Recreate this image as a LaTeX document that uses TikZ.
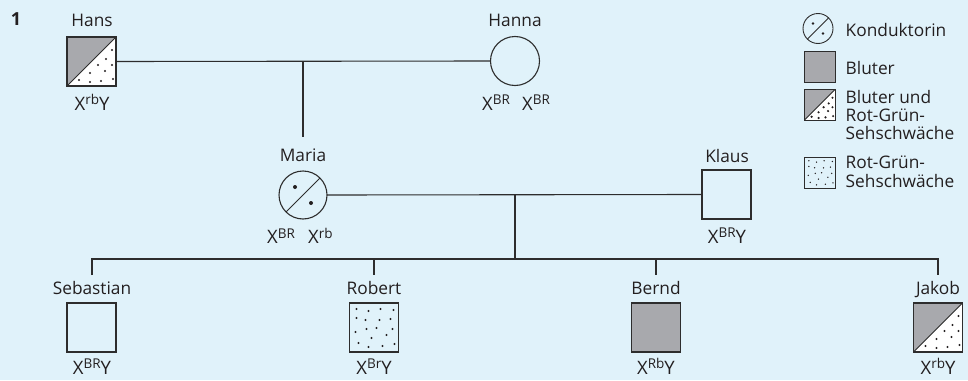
\documentclass[tikz,border=0pt]{standalone}
\usepackage{fontspec}
\setmainfont{Open Sans}
\definecolor{bg}{RGB}{224,242,250}
\definecolor{ln}{RGB}{45,45,45}
\definecolor{gr}{RGB}{168,169,173}
\definecolor{tx}{RGB}{35,31,32}
\newcommand\geno[3]{{\fontsize{18.5}{20}\selectfont #1\raisebox{5.2pt}{\fontsize{13.5}{15}\selectfont #2}#3}}
\newcommand\halfdots[2]{%
  \begin{scope}[shift={(#1.north west)}]
    \foreach \x/\y in {45/13,39/22,31/28,45/28,23/36,38/34,12/43,23/45,34/44,46/42}
      \fill[tx] ({#2*\x},{#2*\y}) circle (1.2pt);
  \end{scope}}
\newcommand\fulldots[3]{%
  \begin{scope}[shift={(#1.north west)}]
    \foreach \x/\y in {7/6,19/8,31/6,44/7,7/15,16/17,30/17,41/16,6/29,17/26,27/25,43/26,22/35,37/32,9/40,19/44,33/43,45/41}
      \fill[tx] ({#2*\x},{#2*\y}) circle (#3);
  \end{scope}}
\begin{document}
\begin{tikzpicture}[x=1pt,y=-1pt,
  every node/.style={text=tx, font=\fontsize{17.3}{18.5}\selectfont},
  lbl/.style={anchor=base, inner sep=0},
  gl/.style={anchor=base west, inner sep=0},
  leg/.style={anchor=base west, inner sep=0},
  person/.style={draw=ln, line width=1.1pt, inner sep=0, outer sep=0},
  male/.style={person, rectangle, minimum size=49pt},
  female/.style={person, circle, minimum size=49pt},
  lmale/.style={person, rectangle, minimum size=31pt, line width=0.9pt},
  lfemale/.style={person, circle, minimum size=30pt, line width=0.9pt},
  affected/.style={fill=gr},
  halfgray/.style={fill=white, path picture={\fill[gr] (path picture bounding box.north west) -- (path picture bounding box.north east) -- (path picture bounding box.south west) -- cycle;
     \draw[ln, line width=0.9pt] (path picture bounding box.south west) -- (path picture bounding box.north east);}},
  carrier/.style={path picture={\draw[ln, line width=0.9pt] (path picture bounding box.south west) -- (path picture bounding box.north east);}},
  link/.style={draw=ln, line width=1.1pt}
]
\fill[bg] (0,0) rectangle (968,380);
\useasboundingbox (0,0) rectangle (968,380);

\node[lbl, font=\fontsize{18}{20}\bfseries] (num) at (16,25) {1};

% generation I
\node[male, halfgray] (hans) at (91.5,61.5) {};
\node[female] (hanna) at (515,61) {};
\node[lbl] (hansname) at (92,27) {Hans};
\node[lbl] (hannaname) at (515,27) {Hanna};
\node[lbl] (hansgeno) at (92,110) {\geno{X}{rb}{Y}};
\node[gl] (hannageno1) at (482,110) {\geno{X}{BR}{}};
\node[gl] (hannageno2) at (522,110) {\geno{X}{BR}{}};
\halfdots{hans}{1}

% generation II
\node[female, carrier, minimum size=48pt] (maria) at (303,195) {};
\node[male] (klaus) at (726.5,194.5) {};
\node[lbl] (marianame) at (303,161.5) {Maria};
\node[lbl] (klausname) at (727,162) {Klaus};
\node[gl] (mariageno1) at (267,243.5) {\geno{X}{BR}{}};
\node[gl] (mariageno2) at (308,243.5) {\geno{X}{rb}{}};
\node[lbl] (klausgeno) at (727,243) {\geno{X}{BR}{Y}};
\fill[tx] ([shift={(-8,-8)}]maria.center) circle (2pt);
\fill[tx] ([shift={(8,8)}]maria.center) circle (2pt);

% generation III
\node[male] (seb) at (91.5,327.5) {};
\node[male] (rob) at (374,327.5) {};
\node[male, affected] (bernd) at (656,327.5) {};
\node[male, halfgray] (jakob) at (938,327.5) {};
\fulldots{rob}{1}{1.2pt}
\halfdots{jakob}{1}
\node[lbl] (sebname) at (92,294) {Sebastian};
\node[lbl] (robname) at (374,294) {Robert};
\node[lbl] (berndname) at (656,294) {Bernd};
\node[lbl] (jakobname) at (938,294) {Jakob};
\node[lbl] (sebgeno) at (92,374) {\geno{X}{BR}{Y}};
\node[lbl] (robgeno) at (374,374) {\geno{X}{Br}{Y}};
\node[lbl] (berndgeno) at (656,374) {\geno{X}{Rb}{Y}};
\node[lbl] (jakobgeno) at (938,374) {\geno{X}{rb}{Y}};

% connectors
\coordinate (mdrop) at (303,137);
\coordinate (kdrop) at (515,259);
\coordinate (sebtop) at (92,275);
\coordinate (robtop) at (374,275);
\coordinate (berndtop) at (656,275);
\coordinate (jakobtop) at (938,275);
\draw[link] (hans.east) -- (hanna.west);
\draw[link] (mdrop |- hans.east) -- (mdrop);
\draw[link] (maria.east) -- (klaus.west);
\draw[link] (kdrop |- maria.east) -- (kdrop);
\draw[link] (sebtop) -- (sebtop |- kdrop) -- (jakobtop |- kdrop) -- (jakobtop);
\draw[link] (robtop |- kdrop) -- (robtop);
\draw[link] (berndtop |- kdrop) -- (berndtop);

% legend
\node[lfemale, carrier] (lcar) at (818,28.5) {};
\fill[tx] ([shift={(-5,-5)}]lcar.center) circle (1.3pt);
\fill[tx] ([shift={(5,5)}]lcar.center) circle (1.3pt);
\node[lmale, affected] (lblut) at (819.5,67) {};
\node[lmale, halfgray] (lboth) at (819.5,105) {};
\halfdots{lboth}{0.633}
\node[lmale] (lrg) at (820,172.5) {};
\fulldots{lrg}{0.633}{0.75pt}
\node[leg] (lcartext) at (845.5,36) {Konduktorin};
\node[leg] (lbluttext) at (845.5,74) {Bluter};
\node[leg, align=left] (lbothtext1) at (845.5,103) {Bluter und};
\node[leg, align=left] (lbothtext2) at (845.5,121) {Rot-Grün-};
\node[leg, align=left] (lbothtext3) at (845.5,139) {Sehschwäche};
\node[leg, align=left] (lrgtext1) at (845.5,168) {Rot-Grün-};
\node[leg, align=left] (lrgtext2) at (845.5,187) {Sehschwäche};
\end{tikzpicture}
\end{document}
